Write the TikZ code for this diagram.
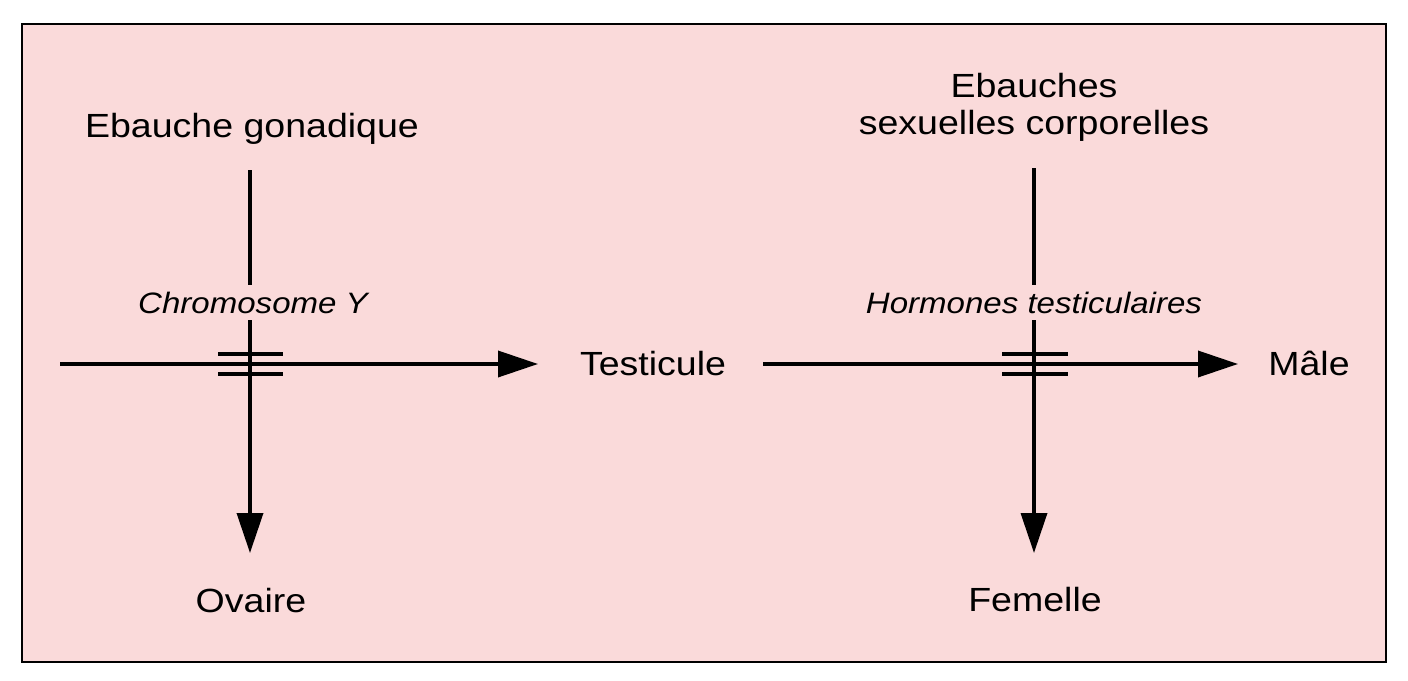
\documentclass[tikz,border=0pt]{standalone}
\usepackage{fontspec}
\setmainfont{Liberation Sans}[FakeStretch=1.12]
\usetikzlibrary{arrows.meta}
\definecolor{bgpink}{RGB}{250,218,218}
\begin{document}
\begin{tikzpicture}[x=1pt,y=-1pt,
  lbl/.style={font=\fontsize{33.5}{35}\selectfont, inner sep=0pt, anchor=base},
  ital/.style={font=\fontsize{29.5}{30}\selectfont\itshape, fill=bgpink, inner xsep=2pt, inner ysep=7pt, anchor=base},
  conn/.style={line width=3.6pt},
  arr/.style={conn, -{Triangle[length=40pt,width=26pt]}},
  bar/.style={line width=3.4pt}]
\useasboundingbox (0,0) rectangle (1408,680);
\draw[line width=2.5pt, fill=bgpink] (22,24) rectangle (1386,662);
% text nodes
\node[lbl] (gon) at (252,137) {Ebauche gonadique};
\node[lbl] (ebs1) at (1034,97) {Ebauches};
\node[lbl] (ebs2) at (1034,134) {sexuelles corporelles};
\node[lbl] (test) at (653,375) {Testicule};
\node[lbl] (male) at (1309,375) {Mâle};
\node[lbl] (ova) at (251,612) {Ovaire};
\node[lbl] (fem) at (1035,611) {Femelle};
% coordinates
\coordinate (lstart) at (60,364);
\coordinate (lend) at (538,364);
\coordinate (rstart) at (763,364);
\coordinate (rend) at (1238,364);
\coordinate (gtop) at (250,170);
\coordinate (gbot) at (250,553);
\coordinate (etop) at (1034,168);
\coordinate (ebot) at (1034,553);
\coordinate (xl) at (250,364);
\coordinate (xr) at (1034,364);
% connectors
\draw[arr] (lstart) -- (lend);
\draw[arr] (rstart) -- (rend);
\draw[arr] (gtop) -- (gbot);
\draw[arr] (etop) -- (ebot);
% bars
\draw[bar] ([xshift=-32pt,yshift=10pt]xl) -- ++(65,0);
\draw[bar] ([xshift=-32pt,yshift=-10pt]xl) -- ++(65,0);
\draw[bar] ([xshift=-32pt,yshift=10pt]xr) -- ++(66,0);
\draw[bar] ([xshift=-32pt,yshift=-10pt]xr) -- ++(66,0);
% labels on the vertical lines
\node[ital] (chr) at (253,313) {Chromosome Y};
\node[ital] (hor) at (1034,313) {Hormones testiculaires};
\end{tikzpicture}
\end{document}
